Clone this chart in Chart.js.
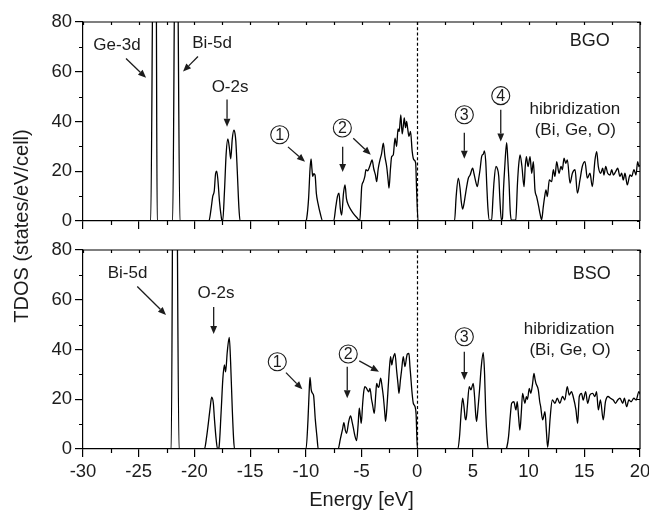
<!DOCTYPE html>
<html>
<head>
<meta charset="utf-8">
<script src="https://cdn.jsdelivr.net/npm/chart.js@4/dist/chart.umd.min.js"></script>
<style>
  html, body { margin: 0; padding: 0; background: #fff; }
  #wrap { position: relative; width: 649px; height: 512px; }
  #wrap canvas { position: absolute; left: 0; top: 0; }
</style>
</head>
<body>
<div id="wrap">
  <canvas id="bgoPanel" width="649" height="512"></canvas>
  <canvas id="bsoPanel" width="649" height="512"></canvas>
</div>
<script>
// Total density of states, Bi4Ge3O12 (BGO)
const bgoEnergy = [
  -30, -23.92, -23.68, -23.45, -23.34, -21.95, -21.72, -21.55, -21.3,
  -18.7, -18.5, -18.35, -18.22, -18.1, -18.0, -17.9, -17.75, -17.6, -17.52,
  -17.46, -17.3, -17.15, -17.0, -16.85, -16.74, -16.6, -16.45, -16.35, -16.28, -16.15, -16.0, -15.9,
  -10.0, -9.92, -9.75, -9.62, -9.53, -9.45, -9.38, -9.28, -9.17, -9.05, -8.9, -8.7, -8.48,
  -7.5, -7.3, -7.15, -7.02, -6.9, -6.78, -6.62, -6.48, -6.35, -6.18, -5.95, -5.74, -5.4, -5.15,
  -5.05, -4.98, -4.84, -4.7, -4.6, -4.45, -4.3, -4.15, -4.05, -3.9, -3.75, -3.64, -3.5, -3.34,
  -3.2, -3.04, -2.9, -2.74, -2.6, -2.53, -2.4, -2.29, -2.15, -1.99, -1.85, -1.72, -1.62, -1.47,
  -1.35, -1.25, -1.16, -1.05, -0.95, -0.85, -0.74, -0.6, -0.45, -0.3, -0.14, -0.05, 0.08,
  3.35, 3.5, 3.69, 3.85, 3.95, 4.08, 4.2, 4.3, 4.45, 4.59, 4.75, 4.98, 5.1, 5.22, 5.4, 5.52,
  5.64, 5.79, 5.95, 6.03, 6.15, 6.25, 6.35, 6.48, 6.68, 6.8, 6.9, 7.07, 7.2, 7.32, 7.42, 7.55,
  7.65, 7.75, 7.85, 8.03, 8.13, 8.24, 8.35, 8.45, 8.85, 9.0, 9.1, 9.23, 9.4, 9.59, 9.7, 9.8,
  9.95, 10.13, 10.28, 10.43, 10.57, 10.72, 10.9, 11.02, 11.17, 11.32, 11.45, 11.56, 11.68, 11.86,
  12.07, 12.22, 12.37, 12.52, 12.73, 12.91, 13.03, 13.18, 13.33, 13.48, 13.72, 13.93, 14.17, 14.38,
  14.61, 14.82, 15.06, 15.27, 15.51, 15.72, 15.96, 16.11, 16.26, 16.47, 16.65, 16.77, 16.92, 17.1,
  17.31, 17.46, 17.61, 17.82, 18.0, 18.2, 18.35, 18.5, 18.65, 18.86, 19.1, 19.25, 19.46, 19.64,
  19.79, 19.91, 20.0
];
const bgoTdos = [
  0, 0, 120, 120, 0, 0, 120, 120, 0,
  0, 5, 10, 12, 19, 20, 17, 8, 2, 0,
  0, 12, 27, 33, 29, 25, 33, 36.5, 35, 32, 20, 5, 0,
  0, 1, 9, 21, 25, 21, 18, 19, 18.5, 11, 7, 3, 0,
  0, 6, 10, 11.2, 5, 2.4, 11, 14.5, 9, 6.4, 4.5, 3.1, 1.3, 0.2,
  8, 13.8, 15.8, 17.9, 20.6, 20.2, 21.5, 23.5, 24.6, 21, 18.5, 15.8, 21, 24.6,
  27, 31.3, 26, 21.9, 16, 13.2, 21, 25.9, 26.5, 33.3, 30, 37, 36, 42.7,
  35, 38, 41.4, 37.5, 40, 37, 34, 36, 28, 24.6, 23.4, 12, 0,
  0, 10, 17.2, 13, 8, 4.8, 7, 9.8, 14, 17.2, 18.5, 21.2, 19, 16.5, 13.8, 17,
  20.6, 26, 27, 28.2, 24, 14, 5, 0.3, 0.3, 9, 16, 21.9, 21, 18, 9, 0.5,
  1, 13, 21, 31.5, 25, 16, 4, 0.3, 0.5, 15, 22, 26.6, 22, 13.8, 22, 25.9,
  21.9, 25.9, 19.2, 23.9, 12.5, 9.8, 6, 3.1, 0.5, 5.8, 10, 12.5, 9.8, 16.5,
  15.8, 20.6, 17.9, 23.9, 19.2, 21.9, 20.6, 25.3, 23.2, 24.6, 15.2, 19.2, 20.6, 11.2,
  16.5, 21.9, 23.9, 17.2, 19.2, 13.8, 24.6, 27.9, 21.9, 19.2, 21.2, 18.5, 21.9, 19.2,
  18.5, 20.6, 18.5, 19.9, 21.2, 17.9, 19.2, 16.5, 19.2, 14.5, 18.5, 17.9, 20.6, 18.5,
  23.9, 21.9, 22.5
];

// Total density of states, Bi4Si3O12 (BSO)
const bsoEnergy = [
  -30, -22.08, -21.88, -21.65, -21.38,
  -19.1, -18.9, -18.75, -18.6, -18.45, -18.3, -18.2, -18.05, -17.92,
  -17.8, -17.6, -17.45, -17.31, -17.2, -17.05, -16.87, -16.75, -16.6, -16.48, -16.4,
  -9.98, -9.8, -9.68, -9.62, -9.52, -9.4, -9.3, -9.15, -9.0, -8.88,
  -7.1, -6.9, -6.7, -6.58, -6.45, -6.34, -6.15, -5.98, -5.85, -5.74, -5.6, -5.44, -5.3, -5.2,
  -5.1, -5.02, -4.9, -4.8, -4.69, -4.55, -4.48, -4.35, -4.24, -4.1, -4.03, -3.9, -3.85, -3.72,
  -3.64, -3.5, -3.43, -3.28, -3.15, -3.04, -2.9, -2.84, -2.7, -2.6, -2.5, -2.39, -2.28, -2.21,
  -2.1, -2.0, -1.85, -1.72, -1.64, -1.5, -1.4, -1.25, -1.1, -0.95, -0.89, -0.74, -0.65, -0.59,
  -0.45, -0.35, -0.2, -0.1, 0.02,
  3.65, 3.8, 3.95, 4.08, 4.2, 4.3, 4.38, 4.5, 4.67, 4.82, 5.03, 5.15, 5.25, 5.33, 5.45, 5.6,
  5.75, 5.93, 6.05, 6.15, 6.28, 6.38,
  7.95, 8.05, 8.2, 8.35, 8.48, 8.68, 8.86, 8.98, 9.1, 9.22, 9.35, 9.46, 9.6, 9.67, 9.8, 9.9,
  10.06, 10.2, 10.35, 10.48, 10.58, 10.66, 10.87, 11.0, 11.08, 11.26, 11.4, 11.47, 11.6, 11.71,
  11.85, 11.92, 12.13, 12.37, 12.57, 12.8, 13.05, 13.25, 13.47, 13.65, 13.85, 14.0, 14.25, 14.4,
  14.55, 14.75, 14.9, 15.12, 15.3, 15.5, 15.75, 15.95, 16.1, 16.26, 16.45, 16.7, 16.9, 17.13,
  17.35, 17.6, 17.8, 18.0, 18.2, 18.45, 18.6, 18.8, 19.0, 19.2, 19.45, 19.65, 19.9, 20.0
];
const bsoTdos = [
  0, 0, 150, 150, 0,
  0, 5, 10.3, 16, 20.8, 18.4, 12, 4, 0,
  0.5, 15, 28, 33.8, 31, 39, 44.9, 35, 16, 4, 0,
  0, 12, 25, 28.8, 24, 22.4, 21.5, 12, 5, 0,
  0, 4, 8, 10.6, 7.5, 6.3, 11, 13.3, 11, 8.7, 5.5, 3.4, 10, 16.4,
  13, 10.3, 18, 23, 25.1, 24.4, 23.8, 23, 24.4, 20, 18.4, 15, 14.3, 22,
  26.4, 24.8, 25.1, 28.5, 25, 21.1, 14, 11.1, 18, 25.1, 32, 37.1, 33.8, 35.5,
  37.5, 38.4, 31.7, 26, 22.4, 28, 31.7, 37.1, 33.1, 37, 38.1, 38.4, 33, 29.8,
  22, 18.4, 17.1, 14, 0,
  0, 5, 15, 20.4, 17, 12.5, 11.7, 17, 25.1, 23.8, 26.4, 21, 14, 11.1, 16, 24,
  33, 38.7, 30, 15, 4, 0,
  0, 0.8, 5, 13, 18.4, 19, 15.7, 19, 13, 7.6, 15, 22.4, 19.5, 18.4, 21, 20,
  24.4, 22.4, 26, 30.4, 28, 26.4, 23.8, 19, 17.1, 11.7, 14, 15, 7, 0.7,
  7, 11.7, 19.7, 18.4, 20.4, 18.4, 21.1, 19.7, 25.1, 21.7, 23.1, 21.1, 15.7, 10.3,
  21.1, 22.4, 19.7, 23.1, 18.4, 21.7, 22.4, 21.1, 23.1, 15.7, 19.7, 11.7, 19, 21.1,
  20.4, 19.7, 18.4, 19.7, 20.4, 18.4, 20.4, 17.0, 19.7, 19.0, 20.4, 19.7, 23.1, 22
];

// Axis ranges and tick spacing shared by both panels
const energyRange = [-30, 20];
const tdosRange = [0, 80];
const energyStep = 5;
const tdosStep = 20;

const FONT = "'Liberation Sans', Arial, Helvetica, sans-serif";
const INK = '#1c1c1c';

// Labels, arrows and circled markers of each panel (data coordinates)
const bgoNotes = {
  name: { text: 'BGO', x: 15.5, y: 72.5 },
  texts: [
    { text: 'Ge-3d', x: -26.95, y: 70.5 },
    { text: 'Bi-5d', x: -18.42, y: 71.3 },
    { text: 'O-2s', x: -16.8, y: 53.6 },
    { text: 'hibridization', x: 14.16, y: 44.7 },
    { text: '(Bi, Ge, O)', x: 14.19, y: 36.3 }
  ],
  circles: [
    { n: '1', x: -12.34, y: 34.7 },
    { n: '2', x: -6.72, y: 37.4 },
    { n: '3', x: 4.23, y: 42.7 },
    { n: '4', x: 7.5, y: 50.4 }
  ],
  arrows: [
    [-26.14, 65.3, -24.34, 57.6],
    [-19.68, 66.1, -21.02, 60.1],
    [-17.07, 48.8, -17.07, 37.9],
    [-11.6, 29.8, -10.07, 23.8],
    [-6.69, 29.8, -6.69, 19.7],
    [-5.74, 33.3, -4.17, 26.6],
    [4.23, 35.5, 4.23, 25.0],
    [7.5, 44.7, 7.5, 32.0]
  ]
};
const bsoNotes = {
  name: { text: 'BSO', x: 15.66, y: 70.2 },
  texts: [
    { text: 'Bi-5d', x: -26.0, y: 70.7 },
    { text: 'O-2s', x: -18.06, y: 62.7 },
    { text: 'hibridization', x: 13.63, y: 48.2 },
    { text: '(Bi, Ge, O)', x: 13.72, y: 39.5 }
  ],
  circles: [
    { n: '1', x: -12.56, y: 35.1 },
    { n: '2', x: -6.19, y: 38.2 },
    { n: '3', x: 4.23, y: 45.1 }
  ],
  arrows: [
    [-25.13, 65.3, -22.55, 53.9],
    [-18.27, 57.1, -18.27, 46.2],
    [-11.78, 30.7, -10.31, 24.0],
    [-6.28, 33.1, -6.28, 20.4],
    [-5.2, 35.4, -3.43, 31.1],
    [4.23, 39.1, 4.23, 27.7]
  ]
};

function drawArrow(ctx, x0, y0, x1, y1) {
  const ang = Math.atan2(y1 - y0, x1 - x0);
  const len = 8, half = 3.4;
  const bx = x1 - len * Math.cos(ang), by = y1 - len * Math.sin(ang);
  ctx.beginPath();
  ctx.moveTo(x0, y0);
  ctx.lineTo(bx, by);
  ctx.stroke();
  ctx.beginPath();
  ctx.moveTo(x1, y1);
  ctx.lineTo(bx + half * Math.sin(ang), by - half * Math.cos(ang));
  ctx.lineTo(bx - half * Math.sin(ang), by + half * Math.cos(ang));
  ctx.closePath();
  ctx.fill();
}

// Frame, minor/inner ticks, Fermi level line and annotations
const panelDecor = {
  id: 'panelDecor',
  beforeDatasetsDraw(chart) {
    const { ctx, chartArea: a, scales: { x } } = chart;
    const x0 = Math.round(x.getPixelForValue(0)) + 0.5;
    ctx.save();
    ctx.strokeStyle = '#000';
    ctx.lineWidth = 1.2;
    ctx.setLineDash([3, 2.2]);
    ctx.beginPath();
    ctx.moveTo(x0, a.top);
    ctx.lineTo(x0, a.bottom);
    ctx.stroke();
    ctx.restore();
  },
  afterDraw(chart, args, opts) {
    const { ctx, chartArea: a, scales: { x, y } } = chart;
    ctx.save();
    ctx.strokeStyle = '#000';
    ctx.lineWidth = 1.2;
    ctx.beginPath();
    ctx.moveTo(a.left, a.top);
    ctx.lineTo(a.right, a.top);
    ctx.lineTo(a.right, a.bottom);
    ctx.stroke();

    ctx.beginPath();
    for (let v = x.min; v <= x.max + 1e-6; v += energyStep / 2) {
      const p = Math.round(x.getPixelForValue(v)) + 0.5;
      if (Math.abs(v % energyStep) > 1e-6) {
        ctx.moveTo(p, a.bottom);
        ctx.lineTo(p, a.bottom + 4);
      }
      ctx.moveTo(p, a.top);
      ctx.lineTo(p, a.top + 3);
    }
    for (let v = y.min; v <= y.max + 1e-6; v += tdosStep / 2) {
      const p = Math.round(y.getPixelForValue(v)) + 0.5;
      if (Math.abs(v % tdosStep) > 1e-6) {
        ctx.moveTo(a.left, p);
        ctx.lineTo(a.left - 4, p);
      }
      ctx.moveTo(a.right, p);
      ctx.lineTo(a.right - 3, p);
    }
    ctx.stroke();

    const notes = opts.notes;
    const P = (vx, vy) => [x.getPixelForValue(vx), y.getPixelForValue(vy)];
    ctx.fillStyle = INK;
    ctx.strokeStyle = INK;
    ctx.textAlign = 'center';
    ctx.textBaseline = 'middle';

    ctx.font = '18px ' + FONT;
    const [nx, ny] = P(notes.name.x, notes.name.y);
    ctx.fillText(notes.name.text, nx, ny);

    ctx.font = '17px ' + FONT;
    for (const t of notes.texts) {
      const [tx, ty] = P(t.x, t.y);
      ctx.fillText(t.text, tx, ty);
    }

    ctx.lineWidth = 1.3;
    for (const ar of notes.arrows) {
      const [x0, y0] = P(ar[0], ar[1]);
      const [x1, y1] = P(ar[2], ar[3]);
      drawArrow(ctx, x0, y0, x1, y1);
    }

    ctx.lineWidth = 1.1;
    ctx.font = '16px ' + FONT;
    for (const c of notes.circles) {
      const [cx, cy] = P(c.x, c.y);
      ctx.beginPath();
      ctx.arc(cx, cy, 9, 0, Math.PI * 2);
      ctx.stroke();
      ctx.fillText(c.n, cx, cy + 0.8);
    }

    if (opts.yTitle) {
      ctx.save();
      ctx.font = '20px ' + FONT;
      ctx.fillStyle = INK;
      ctx.translate(opts.yTitle.x, opts.yTitle.y);
      ctx.rotate(-Math.PI / 2);
      ctx.fillText(opts.yTitle.text, 0, 0);
      ctx.restore();
    }
    ctx.restore();
  }
};

function makePanel(canvasId, energy, tdos, cfg) {
  const points = energy.map((e, i) => ({ x: e, y: tdos[i] }));
  return new Chart(document.getElementById(canvasId), {
    type: 'line',
    data: {
      datasets: [{
        data: points,
        borderColor: '#000',
        borderWidth: 1.3,
        pointRadius: 0,
        fill: false,
        cubicInterpolationMode: 'monotone'
      }]
    },
    options: {
      responsive: false,
      animation: false,
      events: [],
      layout: { padding: { left: 0, right: 9, top: cfg.top, bottom: cfg.bottom } },
      plugins: {
        legend: { display: false },
        tooltip: { enabled: false },
        panelDecor: { notes: cfg.notes, yTitle: cfg.yTitle }
      },
      scales: {
        x: {
          type: 'linear',
          min: energyRange[0],
          max: energyRange[1],
          grid: { display: true, drawOnChartArea: false, drawTicks: true, tickLength: 8, color: '#000', lineWidth: 1.2 },
          border: { display: true, color: '#000', width: 1.2 },
          ticks: {
            display: cfg.xLabels,
            stepSize: energyStep,
            padding: 4,
            color: INK,
            font: { family: FONT, size: 18.5 }
          },
          title: {
            display: cfg.xLabels,
            text: 'Energy [eV]',
            color: INK,
            font: { family: FONT, size: 20 },
            padding: { top: 0, bottom: 0 }
          },
          afterFit(scale) {
            scale.height = cfg.xHeight;
            scale.paddingLeft = 0;
            scale.paddingRight = 0;
          }
        },
        y: {
          min: tdosRange[0],
          max: tdosRange[1],
          grid: { display: true, drawOnChartArea: false, drawTicks: true, tickLength: 8, color: '#000', lineWidth: 1.2 },
          border: { display: true, color: '#000', width: 1.2 },
          ticks: {
            stepSize: tdosStep,
            padding: 3,
            color: INK,
            font: { family: FONT, size: 18.5 }
          },
          afterFit(scale) {
            scale.width = 83;
            scale.paddingTop = 0;
            scale.paddingBottom = 0;
          }
        }
      }
    },
    plugins: [panelDecor]
  });
}

makePanel('bgoPanel', bgoEnergy, bgoTdos, {
  top: 22, bottom: 271, xHeight: 20, xLabels: false, notes: bgoNotes,
  yTitle: { text: 'TDOS (states/eV/cell)', x: 22, y: 226 }
});
makePanel('bsoPanel', bsoEnergy, bsoTdos, {
  top: 250, bottom: 0, xHeight: 63, xLabels: true, notes: bsoNotes
});
</script>
</body>
</html>
